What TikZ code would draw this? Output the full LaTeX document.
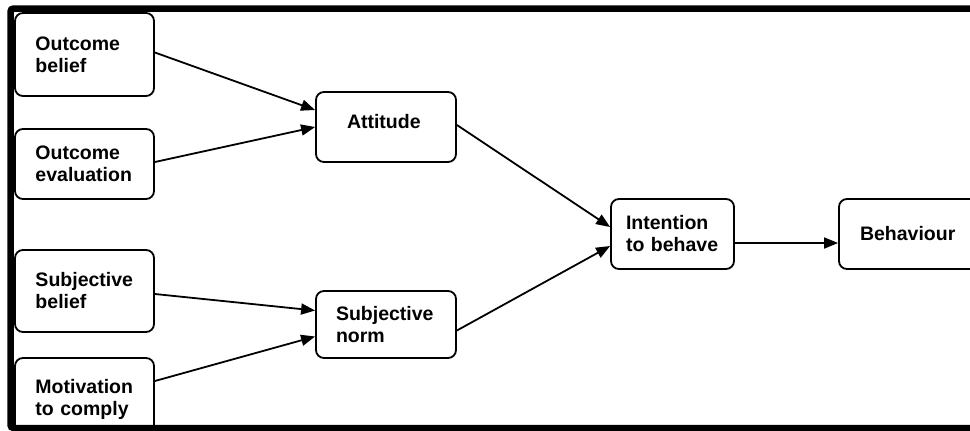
\documentclass[tikz,border=0pt]{standalone}
\usepackage{fontspec}
\setmainfont{Liberation Sans}
\usetikzlibrary{arrows.meta}
\begin{document}
\begin{tikzpicture}[x=1bp,y=-1bp,
  box/.style={draw, rounded corners=8bp, line width=1.8bp, align=left,
    inner sep=0pt, font=\fontsize{19.5bp}{22bp}\selectfont\bfseries},
  link/.style={line width=1.8bp, -{Triangle[length=14bp,width=11bp]}},
  frameline/.style={line width=6.5bp, rounded corners=3bp}]
  \useasboundingbox (0,0) rectangle (970,430);
  \clip (0,0) rectangle (970,430);

  % outer frame
  \draw[frameline] (10.5,8.5) rectangle (1000,428);

  % left column
  \node[box, minimum width=139bp, minimum height=83bp, text width=98bp] (ob) at (84.5,54.5) {Outcome\\belief};
  \node[box, minimum width=139bp, minimum height=70bp, text width=98bp] (oe) at (84.5,164) {Outcome\\evaluation};
  \node[box, minimum width=139bp, minimum height=82bp, text width=98bp] (sb) at (84.5,291) {Subjective\\belief};
  \node[box, minimum width=139bp, minimum height=82bp, text width=98bp] (mc) at (84.5,399) {Motivation\\to comply};

  % middle column
  \node[box, minimum width=140bp, minimum height=70bp, text width=78bp] (att) at (386,127) {\raisebox{5bp}[\height][\depth]{Attitude}};
  \node[box, minimum width=140bp, minimum height=67bp, text width=100bp] (sn) at (386,324.5) {Subjective\\norm};

  % right side
  \node[box, minimum width=123bp, minimum height=70bp, text width=93bp] (int) at (672.5,234) {Intention\\to behave};
  \node[box, minimum width=140bp, minimum height=70bp, text width=98bp] (beh) at (909,234) {Behaviour};

  % connectors
  \draw[link] ([yshift=2bp]ob.east) -- ([yshift=17bp]att.west);
  \draw[link] ([yshift=2bp]oe.east) -- ([yshift=0bp]att.west);
  \draw[link] ([yshift=-3bp]sb.east) -- ([yshift=14bp]sn.west);
  \draw[link] ([yshift=18bp]mc.east) -- ([yshift=-12bp]sn.west);
  \draw[link] ([yshift=2bp]att.east) -- ([yshift=7bp]int.west);
  \draw[link] ([yshift=-6bp]sn.east) -- ([yshift=-12bp]int.west);
  \draw[link] ([yshift=-9bp]int.east) -- ([yshift=-9bp]beh.west);
\end{tikzpicture}
\end{document}
